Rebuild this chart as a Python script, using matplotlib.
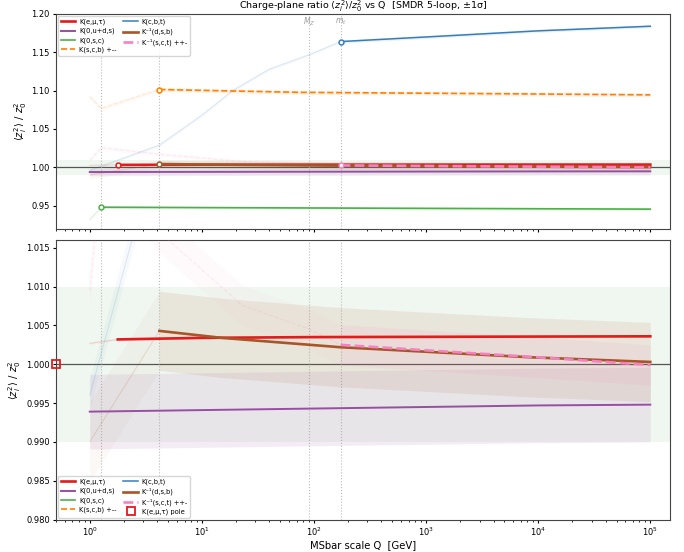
import matplotlib
matplotlib.use("Agg")
import matplotlib.pyplot as plt
import numpy as np

# thresholds (GeV)
m_c, m_tau, m_b, M_Z, m_t = 1.27, 1.777, 4.18, 91.19, 172.7
vlines = [m_c, m_b, M_Z, m_t]

# main curves: Q points and ratio values
q_red = [1.777, 10, 100, 1e5]
y_red = [1.0032, 1.0034, 1.0035, 1.0036]
q_pur = [1.0, 10, 100, 1e3, 1e4, 1e5]
y_pur = [0.9939, 0.9941, 0.9943, 0.9945, 0.9947, 0.9948]
q_grn = [1.27, 10, 100, 1e3, 1e4, 1e5]
y_grn = [0.9480, 0.9475, 0.9470, 0.9465, 0.9460, 0.9455]
q_org = [4.18, 75, 4500, 1e5]
y_org = [1.1015, 1.0978, 1.0960, 1.0945]
q_blu = [172.7, 1e3, 1e4, 1e5]
y_blu = [1.164, 1.170, 1.178, 1.184]
q_brn = [4.18, 15, 170, 8500, 1e5]
y_brn = [1.0043, 1.0034, 1.0022, 1.0009, 1.0003]
q_pnk = [172.7, 1e3, 1e4, 1e5]
y_pnk = [1.0025, 1.0018, 1.0009, 0.9999]

# 1-sigma half widths
s_red, s_pur, s_grn, s_org = 0.00012, 0.0048, 0.002, 0.0025
s_blu, s_brn, s_pnk = 0.002, 0.0051, 0.0026

# faint below-threshold extrapolations
fq_red = [1.0, 1.777]
fy_red = [1.0027, 1.0032]
fq_grn = [1.0, 1.27]
fy_grn = [0.932, 0.948]
fq_org = [1.0, 1.27, 4.18]
fy_org = [1.092, 1.077, 1.1015]
fq_blu = [1.0, 1.27, 4.18, 10, 18.8, 40, 91.19, 172.7]
fy_blu = [0.996, 1.0015, 1.029, 1.068, 1.100, 1.128, 1.147, 1.164]
fq_brn = [1.0, 4.18]
fy_brn = [0.990, 1.0043]
fq_pnk = [1.0, 1.27, 4.18, 22.9, 91.19, 172.7]
fy_pnk = [1.0095, 1.0256, 1.017, 1.0076, 1.0045, 1.0025]

c_red, c_blu, c_grn = '#e41a1c', '#377eb8', '#4daf4a'
c_pur, c_org, c_brn, c_pnk = '#984ea3', '#ff7f00', '#a65628', '#f781bf'

series = [
    ('K(e,μ,τ)', q_red, y_red, s_red, fq_red, fy_red, c_red, '-', 1.9, True),
    ('K(0,u+d,s)', q_pur, y_pur, s_pur, None, None, c_pur, '-', 1.4, False),
    ('K(0,s,c)', q_grn, y_grn, s_grn, fq_grn, fy_grn, c_grn, '-', 1.2, True),
    ('K(s,c,b) +--', q_org, y_org, s_org, fq_org, fy_org, c_org, '--', 1.2, True),
    ('K(c,b,t)', q_blu, y_blu, s_blu, fq_blu, fy_blu, c_blu, '-', 1.1, True),
    ('K⁻¹(d,s,b)', q_brn, y_brn, s_brn, fq_brn, fy_brn, c_brn, '-', 1.9, True),
    ('K⁻¹(s,c,t) ++-', q_pnk, y_pnk, s_pnk, fq_pnk, fy_pnk, c_pnk, '--', 1.9, True),
]

fig = plt.figure(figsize=(6.84, 5.52), dpi=100)
ax1 = fig.add_axes([0.0819, 0.5857, 0.8977, 0.389])
ax2 = fig.add_axes([0.0819, 0.0587, 0.8977, 0.5065], sharex=ax1)

for ax, top in [(ax1, True), (ax2, False)]:
    ax.set_xscale('log')
    ax.axhspan(0.99, 1.01, color='green', alpha=0.06, lw=0, zorder=0)
    ax.axhline(1.0, color='#555555', lw=0.9, zorder=1)
    for v in vlines:
        ax.axvline(v, color='#bbbbbb', ls=':', lw=0.8, zorder=1)
    for lab, q, y, s, fq, fy, c, ls, lw, mark in series:
        q = np.array(q)
        y = np.array(y)
        ax.fill_between(q, y - s, y + s, color=c, alpha=0.1, lw=0, zorder=2)
        if fq is not None:
            fq = np.array(fq)
            fy = np.array(fy)
            ax.fill_between(fq, fy - s, fy + s, color=c, alpha=0.04, lw=0, zorder=2)
            ax.plot(fq, fy, color=c, ls=ls, lw=0.8, alpha=0.15, zorder=3)
        ax.plot(q, y, color=c, ls=ls, lw=lw, label=lab, zorder=4)
        if top and mark:
            ax.plot(q[0], y[0], 'o', ms=3.5, mfc='white', mec=c, mew=1.1, zorder=5)
    ax.tick_params(labelsize=6, length=2.5, pad=2)
    ax.tick_params(which='minor', length=1.5)
    for sp in ax.spines.values():
        sp.set_color('#444444')
    ax.set_ylabel(r'$\langle z_i^2\rangle\ /\ z_0^2$', fontsize=7.2, labelpad=2)

# Koide pole value at the low edge
pole_q = [0.5]
pole_y = [1.0]
ax2.plot(pole_q, pole_y, 's', ms=5.5, mfc='none', mec=c_red, mew=1.3,
         label='K(e,μ,τ) pole', clip_on=False, zorder=6)

ax1.set_xlim(0.5, 1.5e5)
ax1.set_ylim(0.92, 1.20)
ax2.set_ylim(0.98, 1.016)
ax1.tick_params(labelbottom=False)

ax1.text(M_Z, 1.19, '$M_Z$', color='#999999', fontsize=5.5, ha='center', va='center')
ax1.text(m_t, 1.19, '$m_t$', color='#999999', fontsize=5.5, ha='center', va='center')

leg_kw = dict(ncol=2, fontsize=4.9, handlelength=2.1, handletextpad=0.6,
              borderaxespad=0.3, columnspacing=1.0, labelspacing=0.4)
ax1.legend(loc='upper left', **leg_kw)
ax2.legend(loc='lower left', **leg_kw)

ax1.set_title(r'Charge-plane ratio $\langle z_i^2\rangle/z_0^2$ vs Q  [SMDR 5-loop, ±1σ]',
              fontsize=6.8, pad=3.5)
ax2.set_xlabel('MSbar scale Q  [GeV]', fontsize=7.2, labelpad=1.5)

plt.savefig('out.png', dpi=100)
